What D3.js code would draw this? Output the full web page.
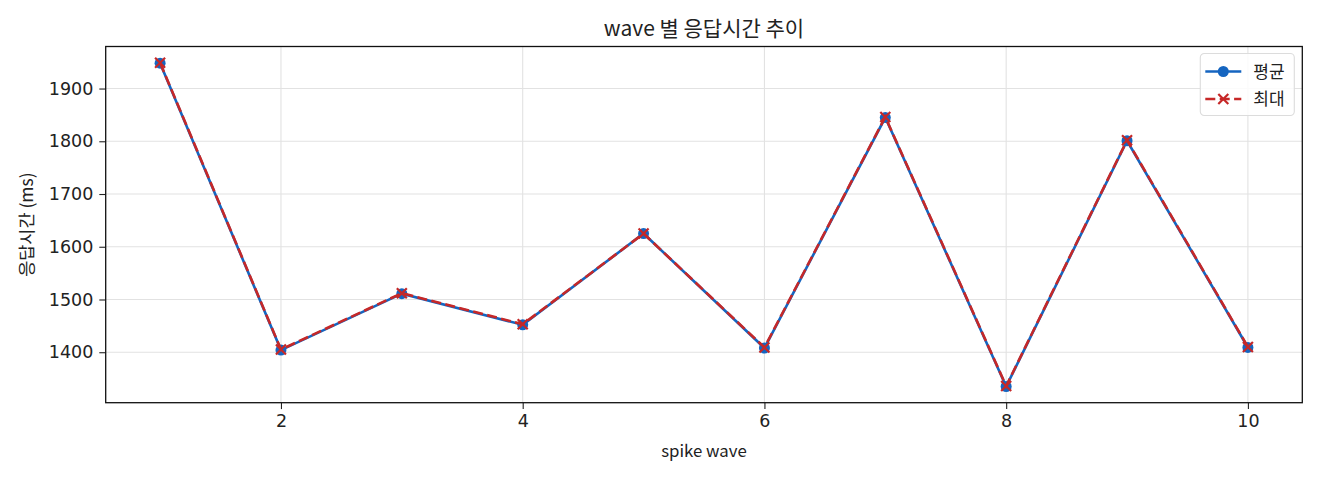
<!DOCTYPE html>
<html>
<head>
<meta charset="utf-8">
<script src="https://cdn.jsdelivr.net/npm/d3@7/dist/d3.min.js"></script>
<style>
  body { margin: 0; background: #fff; }
  text { font-family: "Noto Sans CJK KR", "Noto Sans", sans-serif; fill: #222; }
  .tick text { font-family: "DejaVu Sans", sans-serif; }
</style>
</head>
<body>
<div id="chart"></div>
<script>
var waves = [1, 2, 3, 4, 5, 6, 7, 8, 9, 10];
var avgValues = [1948, 1404, 1511, 1452, 1625, 1408, 1845, 1335, 1801, 1409];
var maxValues = [1949, 1405, 1512, 1453, 1625, 1409, 1846, 1336, 1802, 1410];
var xTicks = [2, 4, 6, 8, 10];
var yTicks = [1400, 1500, 1600, 1700, 1800, 1900];

var W = 1320, H = 480;
var margin = {top: 46.5, right: 17.7, bottom: 77.3, left: 105.7};
var width = W - margin.left - margin.right;
var height = H - margin.top - margin.bottom;

var blue = "#1565c0", red = "#c62828";

// matplotlib-like 5% padding
var xMin = d3.min(waves), xMax = d3.max(waves);
var xPad = (xMax - xMin) * 0.05;
var allY = avgValues.concat(maxValues);
var yMin = d3.min(allY), yMax = d3.max(allY);
var yPad = (yMax - yMin) * 0.05;

var xScale = d3.scaleLinear().domain([xMin - xPad, xMax + xPad]).range([0, width]);
var yScale = d3.scaleLinear().domain([yMin - yPad, yMax + yPad]).range([height, 0]);

var svg = d3.select("#chart").append("svg")
    .attr("width", W).attr("height", H);

var g = svg.append("g")
    .attr("transform", "translate(" + margin.left + "," + margin.top + ")");

// grid
g.append("g").selectAll("line").data(xTicks).enter().append("line")
    .attr("x1", d => xScale(d)).attr("x2", d => xScale(d))
    .attr("y1", 0).attr("y2", height)
    .attr("stroke", "#e2e2e2").attr("stroke-width", 1.1);
g.append("g").selectAll("line").data(yTicks).enter().append("line")
    .attr("y1", d => yScale(d)).attr("y2", d => yScale(d))
    .attr("x1", 0).attr("x2", width)
    .attr("stroke", "#e2e2e2").attr("stroke-width", 1.1);

// axes
var xAxis = d3.axisBottom(xScale).tickValues(xTicks).tickFormat(d3.format("d")).tickSize(6.4).tickPadding(5);
var yAxis = d3.axisLeft(yScale).tickValues(yTicks).tickFormat(d3.format("d")).tickSize(6.4).tickPadding(6);

var gx = g.append("g").attr("transform", "translate(0," + height + ")").call(xAxis);
var gy = g.append("g").call(yAxis);
[gx, gy].forEach(function(a) {
    a.select(".domain").remove();
    a.selectAll("text").style("font-size", "17.5px").attr("fill", "#222");
    a.selectAll("line").attr("stroke", "#222").attr("stroke-width", 1.1);
});

g.append("rect")
    .attr("width", width).attr("height", height)
    .attr("fill", "none").attr("stroke", "#111").attr("stroke-width", 1.3);

// lines
var line = d3.line().x((d, i) => xScale(waves[i])).y(d => yScale(d));

g.append("path").datum(avgValues)
    .attr("d", line).attr("fill", "none")
    .attr("stroke", blue).attr("stroke-width", 2.6);
g.selectAll(".dotAvg").data(avgValues).enter().append("circle")
    .attr("class", "dotAvg")
    .attr("cx", (d, i) => xScale(waves[i])).attr("cy", d => yScale(d))
    .attr("r", 5.5).attr("fill", blue);

g.append("path").datum(maxValues)
    .attr("d", line).attr("fill", "none")
    .attr("stroke", red).attr("stroke-width", 2.6)
    .attr("stroke-dasharray", "10,4.4");
var xs = 5;
g.selectAll(".crossMax").data(maxValues).enter().append("path")
    .attr("class", "crossMax")
    .attr("d", function(d, i) {
        var cx = xScale(waves[i]), cy = yScale(d);
        return "M" + (cx - xs) + "," + (cy - xs) + "L" + (cx + xs) + "," + (cy + xs) +
               "M" + (cx - xs) + "," + (cy + xs) + "L" + (cx + xs) + "," + (cy - xs);
    })
    .attr("stroke", red).attr("stroke-width", 2.2).attr("fill", "none");

// title and labels
svg.append("text")
    .attr("x", margin.left + width / 2).attr("y", 36)
    .attr("text-anchor", "middle").style("font-size", "21px")
    .text("wave 별 응답시간 추이");

svg.append("text")
    .attr("x", margin.left + width / 2).attr("y", 457)
    .attr("text-anchor", "middle").style("font-size", "16.8px")
    .text("spike wave");

svg.append("text")
    .attr("transform", "translate(33," + (margin.top + height / 2) + ") rotate(-90)")
    .attr("text-anchor", "middle").style("font-size", "17.5px")
    .text("응답시간 (ms)");

// legend
var lg = g.append("g").attr("transform", "translate(" + (width - 102) + ",7)");
lg.append("rect")
    .attr("width", 94).attr("height", 62).attr("rx", 4)
    .attr("fill", "#fff").attr("fill-opacity", 0.85)
    .attr("stroke", "#dcdcdc").attr("stroke-width", 1.1);
var items = [
    {label: "평균", color: blue, dash: null, marker: "circle"},
    {label: "최대", color: red, dash: "10,4.4", marker: "x"}
];
items.forEach(function(it, k) {
    var yy = 18 + k * 27.5;
    lg.append("line").attr("x1", 5).attr("x2", 41).attr("y1", yy).attr("y2", yy)
        .attr("stroke", it.color).attr("stroke-width", 2.6)
        .attr("stroke-dasharray", it.dash);
    if (it.marker === "circle") {
        lg.append("circle").attr("cx", 23).attr("cy", yy).attr("r", 5.5).attr("fill", it.color);
    } else {
        lg.append("path")
            .attr("d", "M" + (23 - xs) + "," + (yy - xs) + "L" + (23 + xs) + "," + (yy + xs) +
                       "M" + (23 - xs) + "," + (yy + xs) + "L" + (23 + xs) + "," + (yy - xs))
            .attr("stroke", it.color).attr("stroke-width", 2.2);
    }
    lg.append("text").attr("x", 53).attr("y", yy + 6).style("font-size", "17px").text(it.label);
});
</script>
</body>
</html>
